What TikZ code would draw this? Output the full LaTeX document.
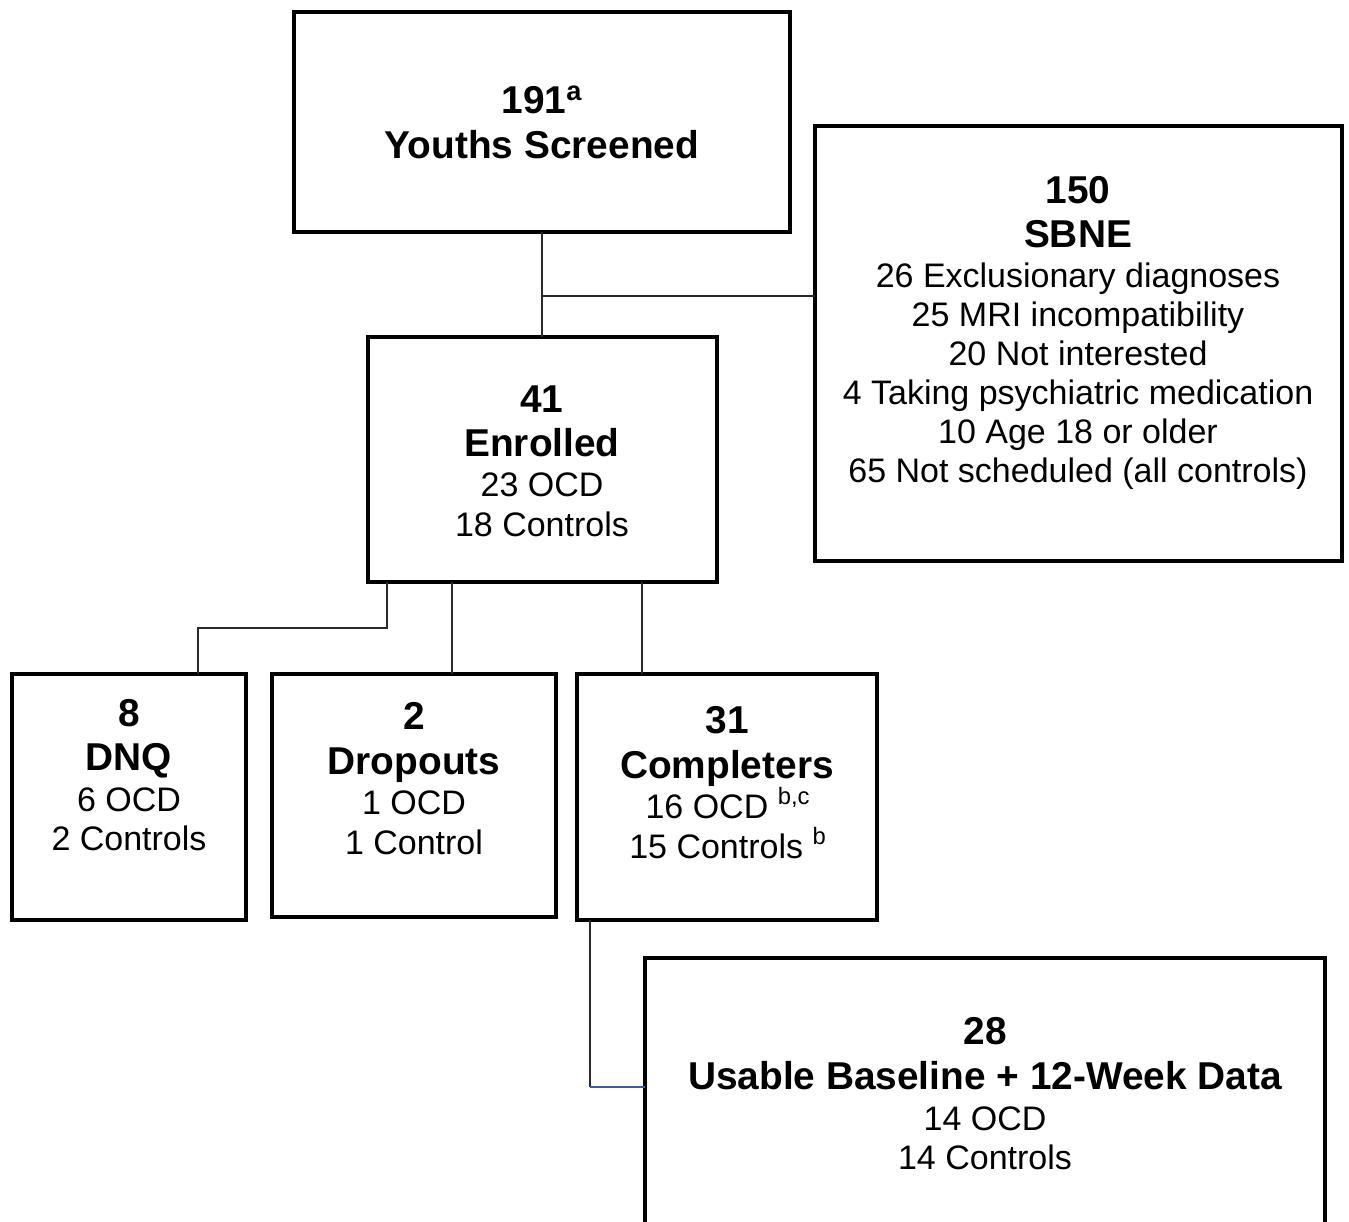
\documentclass[tikz,border=0pt]{standalone}
\usepackage{fontspec}
\setmainfont{Liberation Sans}
\usetikzlibrary{calc}
\definecolor{connblue}{HTML}{3F5A9E}
\definecolor{conngray}{HTML}{2A2A2A}
\begin{document}
\begin{tikzpicture}[x=0.02cm,y=-0.02cm,
  box/.style={draw=black,line width=2.1pt,rectangle,inner sep=0pt,outer sep=0pt},
  conn/.style={draw=conngray,line width=0.8pt},
  bl/.style={font=\fontsize{22.1}{26}\selectfont\bfseries,anchor=base,inner sep=0pt},
  sm/.style={font=\fontsize{19.35}{23}\selectfont,anchor=base,inner sep=0pt}]
\useasboundingbox (0,0) rectangle (1349,1222);
\clip (0,0) rectangle (1349,1222);
% boxes
\node[box,minimum width=9.92cm,minimum height=4.40cm] (top) at (542,122) {};
\node[box,minimum width=10.54cm,minimum height=8.70cm] (sbne) at (1078.5,343.5) {};
\node[box,minimum width=6.98cm,minimum height=4.90cm] (enr) at (542.5,459.5) {};
\node[box,minimum width=4.68cm,minimum height=4.92cm] (dnq) at (129,797) {};
\node[box,minimum width=5.68cm,minimum height=4.86cm] (drop) at (414,795.5) {};
\node[box,minimum width=6.00cm,minimum height=4.92cm] (comp) at (727,797) {};
\node[box,minimum width=13.60cm,minimum height=5.64cm] (use) at (985,1099) {};
% texts
\node[bl] (t1) at (542,113.5) {191\textsuperscript{a}};
\node[bl] (t2) at (542,158.5) {Youths Screened};
\node[bl] (s1) at (1078,203.5) {150};
\node[bl] (s2) at (1078,247.5) {SBNE};
\node[sm] (s3) at (1078,288) {26 Exclusionary diagnoses};
\node[sm] (s4) at (1078,327) {25 MRI incompatibility};
\node[sm] (s5) at (1078,366) {20 Not interested};
\node[sm] (s6) at (1078,405) {4 Taking psychiatric medication};
\node[sm] (s7) at (1078,444) {10 Age 18 or older};
\node[sm] (s8) at (1078,483) {65 Not scheduled (all controls)};
\node[bl] (e1) at (542,412.5) {41};
\node[bl] (e2) at (542,456.5) {Enrolled};
\node[sm] (e3) at (542,497) {23 OCD};
\node[sm] (e4) at (542,537) {18 Controls};
\node[bl] (d1) at (129,726.5) {8};
\node[bl] (d2) at (129,770.5) {DNQ};
\node[sm] (d3) at (129,811) {6 OCD};
\node[sm] (d4) at (129,850) {2 Controls};
\node[bl] (r1) at (414,729.5) {2};
\node[bl] (r2) at (414,774.5) {Dropouts};
\node[sm] (r3) at (414,814) {1 OCD};
\node[sm] (r4) at (414,854) {1 Control};
\node[bl] (c1) at (727,733.5) {31};
\node[bl] (c2) at (727,778.5) {Completers};
\node[sm] (c3) at (728,818) {16 OCD \textsuperscript{b,c}};
\node[sm] (c4) at (728,858) {15 Controls \textsuperscript{b}};
\node[bl] (u1) at (985,1044.5) {28};
\node[bl] (u2) at (985,1089.5) {Usable Baseline + 12-Week Data};
\node[sm] (u3) at (985,1130) {14 OCD};
\node[sm] (u4) at (985,1169) {14 Controls};
% connectors
\coordinate (j1) at ($(top.south)+(0,64)$);
\draw[conn] (top.south) -- (top.south |- enr.north);
\draw[conn] (j1) -- (sbne.west |- j1);
\draw[conn] ($(enr.south west)+(19,0)$) -- ++(0,46) -| ($(dnq.north west)+(186,0)$);
\draw[conn] ($(enr.south west)+(84,0)$) coordinate (ed) -- (ed |- drop.north);
\draw[conn] ($(enr.south west)+(274,0)$) coordinate (ec) -- (ec |- comp.north);
\coordinate (uw) at ($(use.north west)+(0,129)$);
\draw[conn] ($(comp.south west)+(13,0)$) coordinate (cs) -- (cs |- uw) coordinate (corner);
\draw[draw=connblue,line width=0.8pt] (corner) -- (uw);
\end{tikzpicture}
\end{document}
